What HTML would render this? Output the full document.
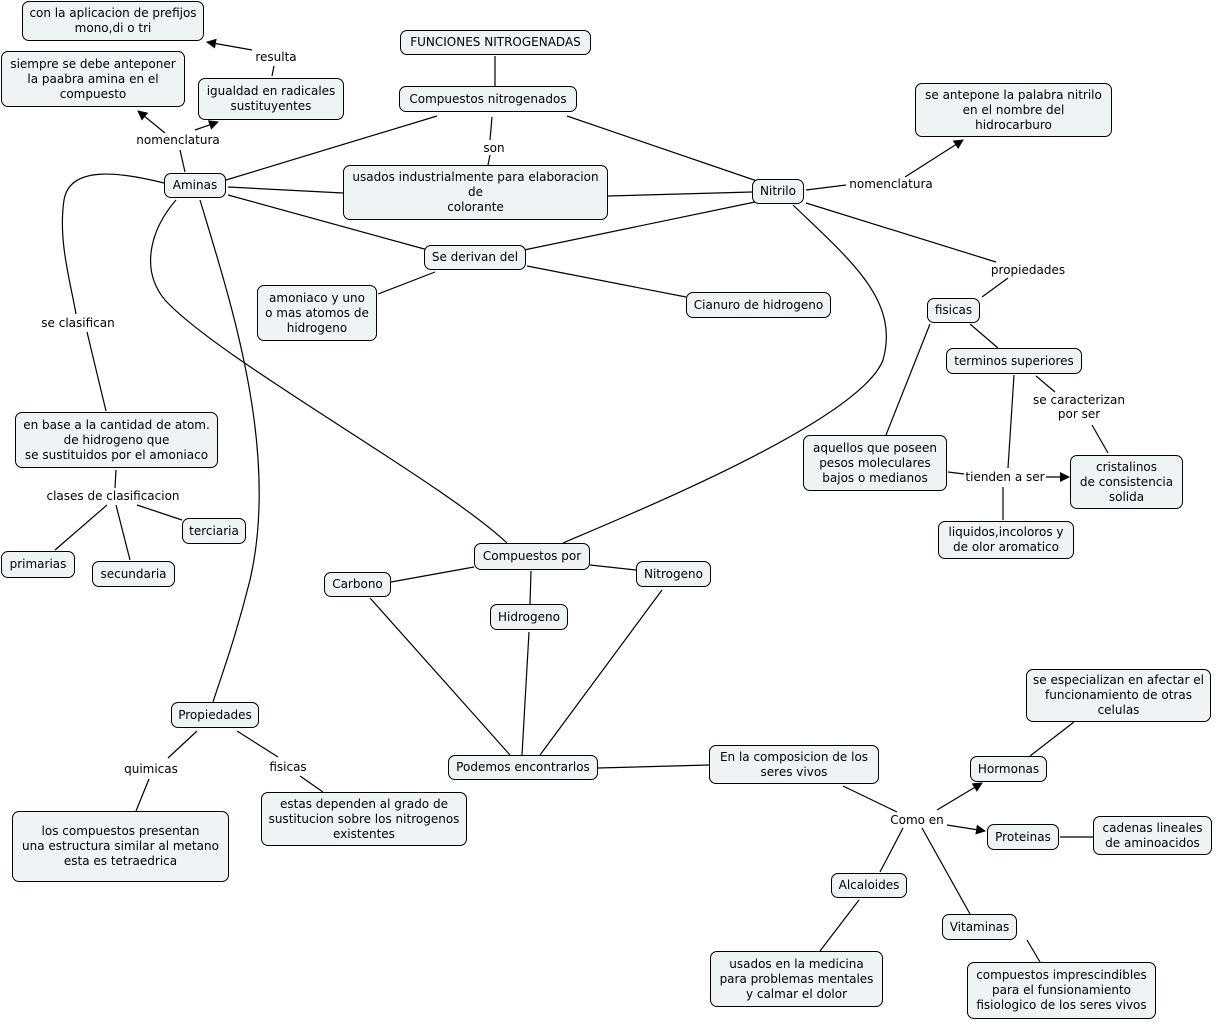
<!DOCTYPE html>
<html><head><meta charset="utf-8"><style>
body{margin:0;width:1215px;height:1022px;background:#fff;position:relative;overflow:hidden;font-family:"DejaVu Sans","Liberation Sans",sans-serif;font-size:12px;color:#000}
.b{position:absolute;box-sizing:border-box;border:1px solid #000;border-radius:7px;background:#eef3f5;display:flex;align-items:center;justify-content:center;text-align:center;line-height:15px;white-space:nowrap}
.l{position:absolute;background:#fff;text-align:center;line-height:14px;white-space:nowrap;transform:translate(-50%,-50%)}
svg{position:absolute;left:0;top:0}
</style></head><body>
<svg width="1215" height="1022" fill="none" stroke="#000" stroke-width="1.2">
<defs><marker id="a" viewBox="0 0 10 10" refX="9" refY="5" markerWidth="10" markerHeight="10" markerUnits="userSpaceOnUse" orient="auto"><path d="M0,0L10,5L0,10z" fill="#000" stroke="none"/></marker></defs>
<line x1="274" y1="66" x2="272" y2="76"/>
<line x1="252" y1="50" x2="207" y2="42" marker-end="url(#a)"/>
<line x1="185" y1="172" x2="180" y2="150"/>
<line x1="165" y1="133" x2="138" y2="111" marker-end="url(#a)"/>
<line x1="195" y1="130" x2="218" y2="122" marker-end="url(#a)"/>
<line x1="495" y1="56" x2="495" y2="86"/>
<line x1="437" y1="116" x2="226" y2="180"/>
<line x1="492" y1="117" x2="490" y2="140"/>
<line x1="490" y1="155" x2="488" y2="165"/>
<line x1="567" y1="116" x2="760" y2="182"/>
<line x1="228" y1="187" x2="343" y2="193"/>
<line x1="608" y1="196" x2="752" y2="192"/>
<line x1="228" y1="195" x2="428" y2="250"/>
<line x1="755" y1="202" x2="524" y2="250"/>
<line x1="435" y1="272" x2="378" y2="294"/>
<line x1="527" y1="266" x2="686" y2="297"/>
<line x1="806" y1="190" x2="846" y2="185"/>
<line x1="905" y1="177" x2="963" y2="140" marker-end="url(#a)"/>
<line x1="806" y1="203" x2="996" y2="262"/>
<line x1="1008" y1="278" x2="982" y2="297"/>
<line x1="970" y1="324" x2="998" y2="348"/>
<line x1="930" y1="324" x2="886" y2="435"/>
<line x1="1036" y1="376" x2="1055" y2="392"/>
<line x1="1092" y1="425" x2="1108" y2="453"/>
<line x1="1014" y1="375" x2="1008" y2="468"/>
<line x1="1003" y1="487" x2="1003" y2="520"/>
<line x1="948" y1="472" x2="964" y2="474"/>
<line x1="1046" y1="477" x2="1069" y2="477" marker-end="url(#a)"/>
<path d="M164,183 C120,172 70,165 64,200 C58,240 70,280 76,314"/>
<line x1="87" y1="332" x2="106" y2="411"/>
<line x1="116" y1="470" x2="115" y2="488"/>
<line x1="107" y1="505" x2="55" y2="550"/>
<line x1="116" y1="505" x2="130" y2="560"/>
<line x1="137" y1="505" x2="182" y2="520"/>
<path d="M176,200 C150,230 140,270 165,300 C220,360 440,480 507,543"/>
<path d="M793,205 C850,260 900,300 883,360 C860,420 640,510 563,543"/>
<path d="M200,200 C230,300 280,450 250,580 C235,640 220,680 213,702"/>
<line x1="474" y1="567" x2="391" y2="582"/>
<line x1="590" y1="565" x2="636" y2="570"/>
<line x1="531" y1="571" x2="530" y2="604"/>
<line x1="370" y1="598" x2="510" y2="755"/>
<line x1="529" y1="632" x2="522" y2="755"/>
<line x1="662" y1="590" x2="540" y2="755"/>
<line x1="598" y1="768" x2="709" y2="765"/>
<line x1="843" y1="786" x2="897" y2="812"/>
<line x1="937" y1="810" x2="982" y2="783" marker-end="url(#a)"/>
<line x1="947" y1="825" x2="985" y2="831" marker-end="url(#a)"/>
<line x1="903" y1="828" x2="880" y2="872"/>
<line x1="922" y1="828" x2="970" y2="914"/>
<line x1="1030" y1="756" x2="1074" y2="722"/>
<line x1="1060" y1="837" x2="1093" y2="837"/>
<line x1="859" y1="900" x2="820" y2="951"/>
<line x1="1027" y1="940" x2="1040" y2="962"/>
<line x1="197" y1="731" x2="168" y2="758"/>
<line x1="149" y1="779" x2="136" y2="811"/>
<line x1="237" y1="731" x2="278" y2="757"/>
<line x1="300" y1="776" x2="323" y2="792"/>
</svg>
<div class="b" style="left:22px;top:1px;width:182px;height:40px">con la aplicacion de prefijos<br>mono,di o tri</div>
<div class="b" style="left:1px;top:51px;width:184px;height:56px">siempre se debe anteponer<br>la paabra amina en el<br>compuesto</div>
<div class="b" style="left:198px;top:78px;width:146px;height:42px">igualdad en radicales<br>sustituyentes</div>
<div class="b" style="left:400px;top:30px;width:191px;height:25px">FUNCIONES NITROGENADAS</div>
<div class="b" style="left:399px;top:86px;width:178px;height:26px">Compuestos nitrogenados</div>
<div class="b" style="left:915px;top:83px;width:197px;height:54px">se antepone la palabra nitrilo<br>en el nombre del<br>hidrocarburo</div>
<div class="b" style="left:164px;top:173px;width:62px;height:25px">Aminas</div>
<div class="b" style="left:343px;top:165px;width:265px;height:55px">usados industrialmente para elaboracion<br>de<br>colorante</div>
<div class="b" style="left:752px;top:179px;width:52px;height:25px">Nitrilo</div>
<div class="b" style="left:424px;top:245px;width:102px;height:25px">Se derivan del</div>
<div class="b" style="left:257px;top:285px;width:120px;height:56px">amoniaco y uno<br>o mas atomos de<br>hidrogeno</div>
<div class="b" style="left:686px;top:292px;width:145px;height:26px">Cianuro de hidrogeno</div>
<div class="b" style="left:927px;top:298px;width:53px;height:25px">fisicas</div>
<div class="b" style="left:946px;top:348px;width:136px;height:26px">terminos superiores</div>
<div class="b" style="left:15px;top:412px;width:203px;height:56px">en base a la cantidad de atom.<br>de hidrogeno que<br>se sustituidos por el amoniaco</div>
<div class="b" style="left:803px;top:435px;width:144px;height:56px">aquellos que poseen<br>pesos moleculares<br>bajos o medianos</div>
<div class="b" style="left:1070px;top:455px;width:113px;height:54px">cristalinos<br>de consistencia<br>solida</div>
<div class="b" style="left:182px;top:518px;width:64px;height:26px">terciaria</div>
<div class="b" style="left:938px;top:521px;width:136px;height:38px">liquidos,incoloros y<br>de olor aromatico</div>
<div class="b" style="left:1px;top:551px;width:74px;height:27px">primarias</div>
<div class="b" style="left:92px;top:561px;width:83px;height:26px">secundaria</div>
<div class="b" style="left:474px;top:543px;width:116px;height:27px">Compuestos por</div>
<div class="b" style="left:324px;top:572px;width:67px;height:25px">Carbono</div>
<div class="b" style="left:636px;top:561px;width:75px;height:26px">Nitrogeno</div>
<div class="b" style="left:490px;top:604px;width:78px;height:26px">Hidrogeno</div>
<div class="b" style="left:1026px;top:669px;width:185px;height:53px">se especializan en afectar el<br>funcionamiento de otras<br>celulas</div>
<div class="b" style="left:171px;top:702px;width:88px;height:26px">Propiedades</div>
<div class="b" style="left:448px;top:755px;width:150px;height:25px">Podemos encontrarlos</div>
<div class="b" style="left:709px;top:745px;width:170px;height:39px">En la composicion de los<br>seres vivos</div>
<div class="b" style="left:970px;top:756px;width:77px;height:26px">Hormonas</div>
<div class="b" style="left:261px;top:792px;width:206px;height:54px">estas dependen al grado de<br>sustitucion sobre los nitrogenos<br>existentes</div>
<div class="b" style="left:12px;top:811px;width:217px;height:71px">los compuestos presentan<br>una estructura similar al metano<br>esta es tetraedrica</div>
<div class="b" style="left:987px;top:824px;width:72px;height:26px">Proteinas</div>
<div class="b" style="left:1093px;top:816px;width:119px;height:39px">cadenas lineales<br>de aminoacidos</div>
<div class="b" style="left:831px;top:873px;width:76px;height:25px">Alcaloides</div>
<div class="b" style="left:942px;top:914px;width:75px;height:26px">Vitaminas</div>
<div class="b" style="left:710px;top:951px;width:173px;height:56px">usados en la medicina<br>para problemas mentales<br>y calmar el dolor</div>
<div class="b" style="left:967px;top:962px;width:189px;height:57px">compuestos imprescindibles<br>para el funsionamiento<br>fisiologico de los seres vivos</div>
<div class="l" style="left:276px;top:57px">resulta</div>
<div class="l" style="left:178px;top:140px">nomenclatura</div>
<div class="l" style="left:494px;top:148px">son</div>
<div class="l" style="left:891px;top:184px">nomenclatura</div>
<div class="l" style="left:1028px;top:270px">propiedades</div>
<div class="l" style="left:78px;top:323px">se clasifican</div>
<div class="l" style="left:113px;top:496px">clases de clasificacion</div>
<div class="l" style="left:1079px;top:407px">se caracterizan<br>por ser</div>
<div class="l" style="left:1005px;top:477px">tienden a ser</div>
<div class="l" style="left:151px;top:769px">quimicas</div>
<div class="l" style="left:288px;top:767px">fisicas</div>
<div class="l" style="left:917px;top:820px">Como en</div>
</body></html>
